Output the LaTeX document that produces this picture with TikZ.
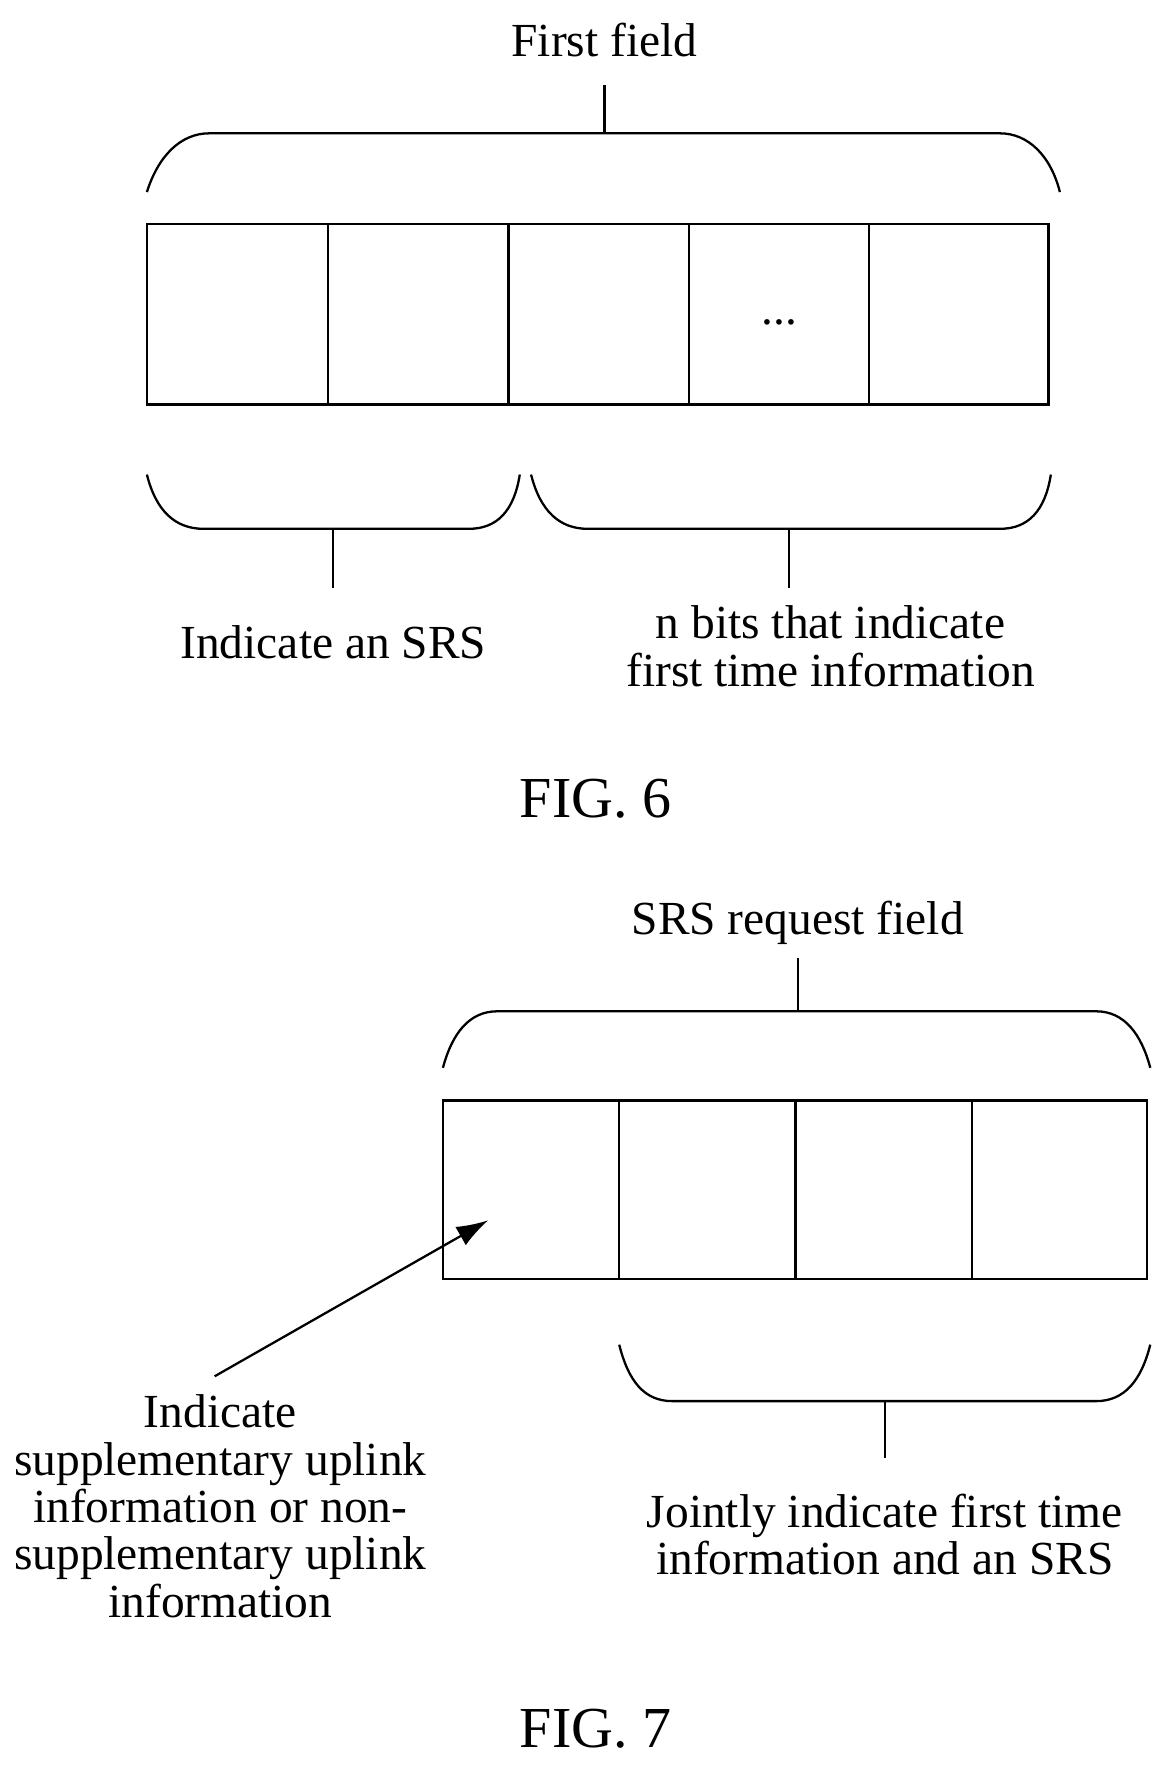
\documentclass[tikz,border=0pt]{standalone}
\usepackage{fontspec}
\usetikzlibrary{arrows.meta}
\setmainfont{Liberation Serif}
\begin{document}
\begin{tikzpicture}[x=0.0226cm,y=-0.0226cm,
  ln/.style={line width=1.3pt},
  txt/.style={font=\fontsize{27}{27}\selectfont,align=center},
  fig/.style={font=\fontsize{33}{36}\selectfont}]
\useasboundingbox (0,0) rectangle (1038,1570);
% FIG 6
\node[txt] (t1) at (535,35) {First field};
\draw[ln] (130,198) rectangle (928,358);
\foreach \x in {290,450,610,769} \draw[ln] (\x,198) -- (\x,358);
\node[txt] (dots) at (690,285) {...};
\draw[ln] (130,170) .. controls (140,138) and (160,118) .. (185,118) -- (885,118) .. controls (910,118) and (930,138) .. (938,170);
\draw[ln] (535,118) -- (535,75);
\draw[ln] (130,420) .. controls (138,452) and (155,468) .. (180,468) -- (415,468) .. controls (440,468) and (455,452) .. (460,420);
\draw[ln] (295,468) -- (295,520);
\draw[ln] (470,420) .. controls (478,452) and (495,468) .. (520,468) -- (885,468) .. controls (910,468) and (925,452) .. (930,420);
\draw[ln] (698,468) -- (698,520);
\node[txt] (a) at (295,568) {Indicate an SRS};
\node[txt] (b) at (735,572) {n bits that indicate\\first time information};
\node[fig] (f6) at (527,707) {FIG. 6};
% FIG 7
\node[txt] (t2) at (706,817) {SRS request field};
\draw[ln] (392,974) rectangle (1015,1132);
\foreach \x in {548,704,860} \draw[ln] (\x,974) -- (\x,1132);
\draw[ln] (392,945) .. controls (400,915) and (415,895) .. (440,895) -- (970,895) .. controls (995,895) and (1010,915) .. (1018,945);
\draw[ln] (706,895) -- (706,848);
\draw[ln] (548,1190) .. controls (556,1222) and (570,1240) .. (595,1240) -- (970,1240) .. controls (995,1240) and (1010,1222) .. (1018,1190);
\draw[ln] (783,1240) -- (783,1290);
\node[txt] (c) at (783,1358) {Jointly indicate first time\\information and an SRS};
\coordinate (s) at (190,1218);
\coordinate (e) at (432,1080);
\draw[ln,-{Latex[length=18pt,width=12pt]}] (s) -- (e);
\node[txt] (d) at (195,1333) {Indicate\\supplementary uplink\\information or non-\\supplementary uplink\\information};
\node[fig] (f7) at (527,1530) {FIG. 7};
\end{tikzpicture}
\end{document}
